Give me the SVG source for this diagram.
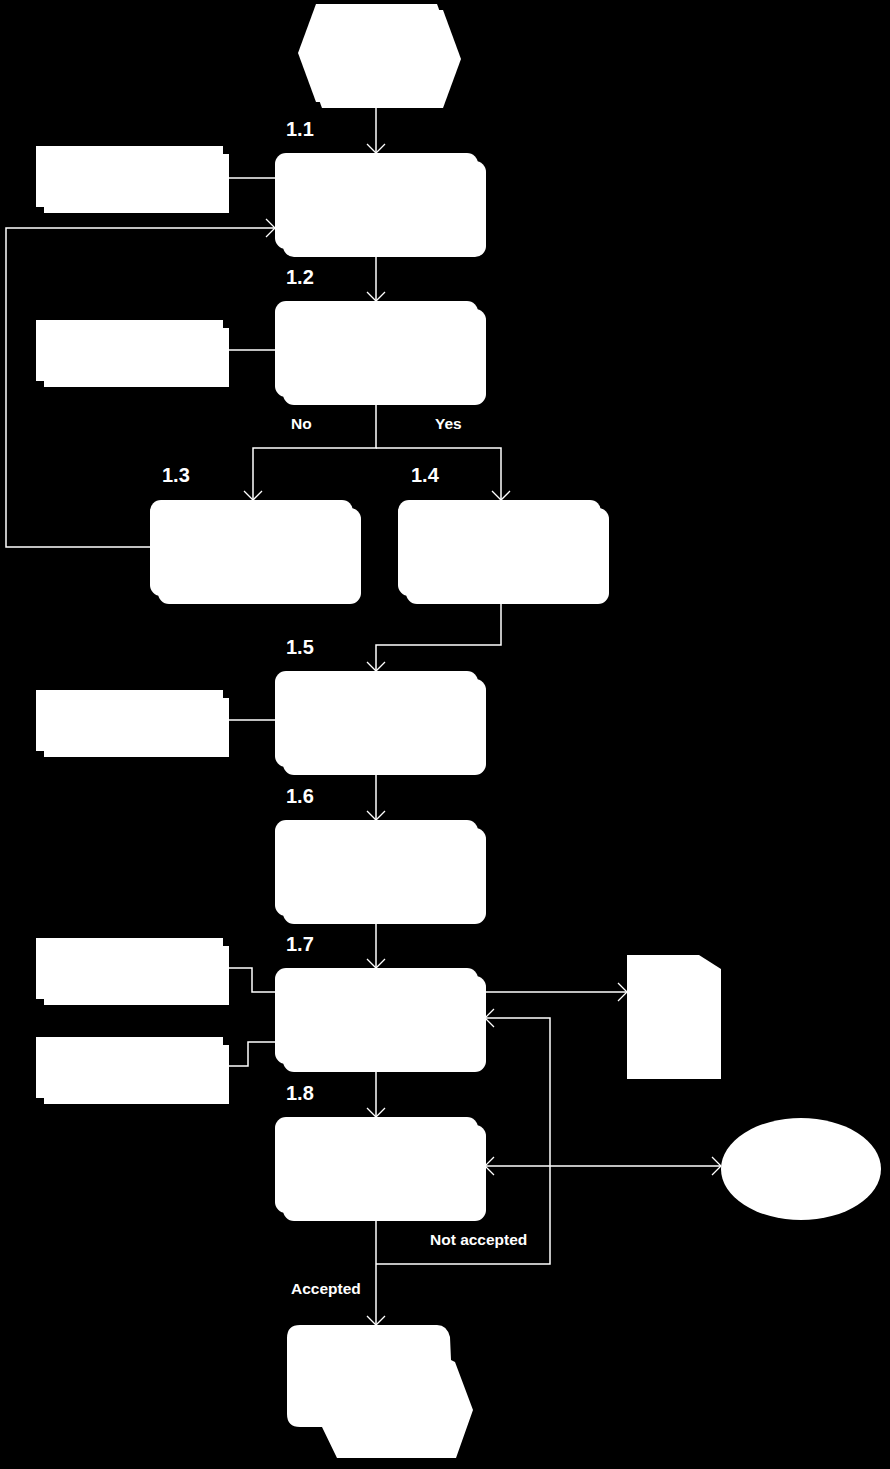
<svg xmlns="http://www.w3.org/2000/svg" width="890" height="1469" viewBox="0 0 890 1469">
<style>
.bg{fill:#000}
.s{fill:#fff;stroke:none}
.c{fill:none;stroke:#fff;stroke-width:1.5}
.num{font-family:"Liberation Sans",Arial,sans-serif;font-weight:bold;font-size:20px;fill:#fff}
.lbl{font-family:"Liberation Sans",Arial,sans-serif;font-weight:bold;font-size:15.5px;fill:#fff}
</style>
<defs>
<marker id="ah" markerUnits="userSpaceOnUse" markerWidth="12" markerHeight="22" refX="10" refY="10" orient="auto-start-reverse" viewBox="0 0 12 22">
<path d="M1,1 L10,10 L1,19" fill="none" stroke="#fff" stroke-width="1.3"/>
</marker>
<g id="proc"><rect class="s" x="8" y="8" width="203" height="96" rx="11"/><rect class="s" x="0" y="0" width="203" height="96" rx="11"/></g>
<g id="side"><rect class="s" x="8" y="8" width="185" height="59"/><rect class="s" x="0" y="0" width="187" height="61"/></g>
</defs>
<rect class="bg" x="0" y="0" width="890" height="1469"/>

<g id="connectors">
<path class="c" d="M376,108 V153" marker-end="url(#ah)"/>
<path class="c" d="M229,178 H275"/>
<path class="c" d="M376,257 V301" marker-end="url(#ah)"/>
<path class="c" d="M229,350 H275"/>
<path class="c" d="M376,404 V448 H253 V500" marker-end="url(#ah)"/>
<path class="c" d="M376,448 H501 V500" marker-end="url(#ah)"/>
<path class="c" d="M150,547 H6 V228 H275" marker-end="url(#ah)"/>
<path class="c" d="M501,603 V645 H376 V671" marker-end="url(#ah)"/>
<path class="c" d="M229,720 H275"/>
<path class="c" d="M376,775 V820" marker-end="url(#ah)"/>
<path class="c" d="M376,923 V968" marker-end="url(#ah)"/>
<path class="c" d="M229,968 H252 V992 H275"/>
<path class="c" d="M229,1066 H248 V1042 H275"/>
<path class="c" d="M485,992 H627" marker-end="url(#ah)"/>
<path class="c" d="M376,1072 V1117" marker-end="url(#ah)"/>
<path class="c" d="M485,1166 H721" marker-start="url(#ah)" marker-end="url(#ah)"/>
<path class="c" d="M376,1221 V1325" marker-end="url(#ah)"/>
<path class="c" d="M376,1264 H550 V1018 H485" marker-end="url(#ah)"/>
</g>

<g id="start">
<polygon class="s" points="322,10 443,10 461,59 443,108 322,108 304,59"/>
<polygon class="s" points="316,4 437,4 455,53 437,102 316,102 298,53"/>
</g>

<g id="n1_1"><use href="#proc" x="275" y="153"/><text class="num" x="286" y="136">1.1</text></g>
<g id="in1_1"><use href="#side" x="36" y="146"/></g>
<g id="n1_2"><use href="#proc" x="275" y="301"/><text class="num" x="286" y="284">1.2</text></g>
<g id="in1_2"><use href="#side" x="36" y="320"/></g>
<g id="n1_3"><use href="#proc" x="150" y="500"/><text class="num" x="162" y="482">1.3</text></g>
<g id="n1_4"><use href="#proc" x="398" y="500"/><text class="num" x="411" y="482">1.4</text></g>
<g id="n1_5"><use href="#proc" x="275" y="671"/><text class="num" x="286" y="654">1.5</text></g>
<g id="in1_5"><use href="#side" x="36" y="690"/></g>
<g id="n1_6"><use href="#proc" x="275" y="820"/><text class="num" x="286" y="803">1.6</text></g>
<g id="n1_7"><use href="#proc" x="275" y="968"/><text class="num" x="286" y="951">1.7</text></g>
<g id="in1_7a"><use href="#side" x="36" y="938"/></g>
<g id="in1_7b"><use href="#side" x="36" y="1037"/></g>
<g id="n1_8"><use href="#proc" x="275" y="1117"/><text class="num" x="286" y="1100">1.8</text></g>

<g id="doc"><polygon class="s" points="627,955 699,955 721,969 721,1079 627,1079"/></g>
<g id="ext"><ellipse class="s" cx="801" cy="1169" rx="80" ry="51"/></g>
<g id="end">
<path class="s" d="M300,1325 H437 Q447,1325 450,1337 L451,1360 L455,1362 L473,1410 L456,1458 L337,1458 L322,1427 L300,1427 Q287,1427 287,1414 V1338 Q287,1325 300,1325 Z"/>
</g>

<g id="labels">
<text class="lbl" x="291" y="429">No</text>
<text class="lbl" x="435" y="429">Yes</text>
<text class="lbl" x="430" y="1245">Not accepted</text>
<text class="lbl" x="291" y="1294">Accepted</text>
</g>
</svg>
